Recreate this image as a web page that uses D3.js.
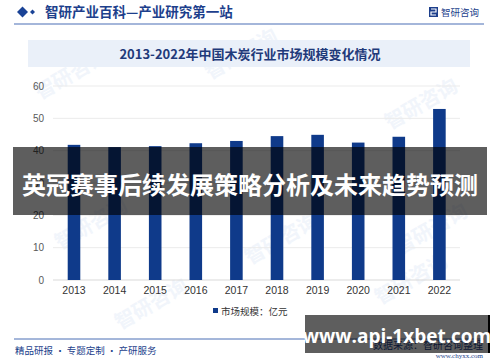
<!DOCTYPE html>
<html><head><meta charset="utf-8">
<script src="https://cdn.jsdelivr.net/npm/d3@7"></script>
<style>body{margin:0;background:#fff}svg{display:block}</style>
</head><body>
<svg id="c" width="500" height="362"></svg>
<script>
const categories = ["2013","2014","2015","2016","2017","2018","2019","2020","2021","2022"];
const values = [41.8, 41.1, 41.4, 42.3, 43.0, 44.5, 44.9, 42.5, 44.3, 52.9];
const yTicks = [0,10,20,30,40,50,60];
const seriesName = "市场规模：亿元";
const headerTitle = "智研产业百科—产业研究第一站";
const chartTitle = "2013-2022年中国木炭行业市场规模变化情况";
const overlayTitle = "英冠赛事后续发展策略分析及未来趋势预测";
const footerLeft = "精品研报 · 专题定制 · 产研服务";
const footerRight1 = "数据来源：智研咨询整理";
const footerRight2 = "www.chyxx.com";
const brand = "智研咨询";
const overlayUrl = "www.api-1xbet.com";

const svg = d3.select("#c");
const cjk = "'Noto Sans CJK SC','Noto Sans',sans-serif";
const blue = "#1d3f8c";

// faint watermarks
const wm = [[40,100],[210,80],[390,130],[60,250],[250,265],[400,255],[120,330],[380,305]];
wm.forEach(([x,y])=>{
  svg.append("text").attr("x",x).attr("y",y).attr("transform",`rotate(-30,${x},${y})`)
    .attr("font-family",cjk).attr("font-size",20).attr("font-weight","bold")
    .attr("fill","#f1f5fb").text("智研咨询");
});

// header
svg.append("path").attr("d","M17,12 L22.5,6.5 L28,12 L22.5,17.5Z").attr("fill","#1a4396");
svg.append("path").attr("d","M30,12 L32.5,9.5 L35,12 L32.5,14.5Z").attr("fill","#1a4396");
svg.append("text").attr("x",45).attr("y",17).attr("font-family",cjk).attr("font-weight","bold")
  .attr("font-size",13.5).attr("fill",blue).text(headerTitle);
svg.append("rect").attr("x",429).attr("y",7).attr("width",9).attr("height",10).attr("fill","#1d3f8c");
svg.append("path").attr("d","M431,9 h5 v3 h-5 v3 h5").attr("stroke","#fff").attr("stroke-width",1.2).attr("fill","none");
svg.append("text").attr("x",441).attr("y",16).attr("font-family",cjk).attr("font-size",9.5)
  .attr("fill",blue).text(brand);
svg.append("line").attr("x1",14).attr("x2",484).attr("y1",24).attr("y2",24).attr("stroke","#4a6fb5").attr("stroke-width",1.2);

// chart title box
svg.append("rect").attr("x",28).attr("y",40).attr("width",442).attr("height",27).attr("fill","#eaf0f9");
svg.append("text").attr("x",250).attr("y",59).attr("text-anchor","middle").attr("font-family",cjk)
  .attr("font-weight","bold").attr("font-size",13).attr("fill","#1f3a7a").text(chartTitle);

// scales
const x = d3.scaleBand().domain(categories).range([53.7,459.7]).paddingInner(0.69).paddingOuter(0.345);
const y = d3.scaleLinear().domain([0,60]).range([280,86]);

const grid = svg.append("g");
grid.selectAll("line").data(yTicks).join("line")
  .attr("x1",53).attr("x2",460).attr("y1",d=>y(d)).attr("y2",d=>y(d))
  .attr("stroke",d=>d===0?"#d9d9d9":"#ebebeb").attr("stroke-width",1);

const yAxis = svg.append("g").attr("transform","translate(53,0)")
  .call(d3.axisLeft(y).tickValues(yTicks).tickSize(0).tickPadding(9));
yAxis.select(".domain").remove();
yAxis.selectAll("text").attr("font-family","Arial,'Liberation Sans',sans-serif").attr("font-size",10).attr("fill","#595959");

svg.selectAll("rect.bar").data(values).join("rect").attr("class","bar")
  .attr("x",(d,i)=>x(categories[i])).attr("width",x.bandwidth())
  .attr("y",d=>y(d)).attr("height",d=>y(0)-y(d)).attr("fill","#0f3a8a");

const xAxis = svg.append("g").attr("transform","translate(0,280)")
  .call(d3.axisBottom(x).tickSize(0).tickPadding(7));
xAxis.select(".domain").remove();
xAxis.selectAll("text").attr("font-family","Arial,'Liberation Sans',sans-serif").attr("font-size",10.5).attr("fill","#333");

// legend
svg.append("rect").attr("x",213).attr("y",308).attr("width",5).attr("height",5).attr("fill","#0f3a8a");
svg.append("text").attr("x",221).attr("y",314.5).attr("font-family",cjk).attr("font-size",9.5)
  .attr("fill","#333").text(seriesName);

// footer
svg.append("line").attr("x1",14).attr("x2",484).attr("y1",339).attr("y2",339).attr("stroke","#4a6fb5").attr("stroke-width",1);
svg.append("text").attr("x",15).attr("y",354).attr("font-family",cjk).attr("font-size",9.5)
  .attr("fill",blue).text(footerLeft);
svg.append("text").attr("x",483).attr("y",349).attr("text-anchor","end").attr("font-family",cjk).attr("font-size",10)
  .attr("fill",blue).text(footerRight1);
svg.append("text").attr("x",483).attr("y",358).attr("text-anchor","end").attr("font-family","serif").attr("font-size",7)
  .attr("fill",blue).text(footerRight2);

// overlays
svg.append("rect").attr("x",13).attr("y",147).attr("width",474).attr("height",68).attr("fill","rgba(0,0,0,0.63)");
svg.append("text").attr("x",250).attr("y",194).attr("text-anchor","middle").attr("font-family",cjk)
  .attr("font-weight","bold").attr("font-size",24).attr("fill","#fff").text(overlayTitle);

svg.append("rect").attr("x",488).attr("y",315).attr("width",2).attr("height",38).attr("fill","#000");
svg.append("rect").attr("x",305).attr("y",315).attr("width",184).attr("height",38).attr("fill","rgba(0,0,0,0.63)");
svg.append("text").attr("x",397).attr("y",343).attr("text-anchor","middle").attr("font-family","'Open Sans','DejaVu Sans',sans-serif")
  .attr("font-weight","bold").attr("font-size",19).attr("fill","#fff").text(overlayUrl);
</script>
</body></html>
